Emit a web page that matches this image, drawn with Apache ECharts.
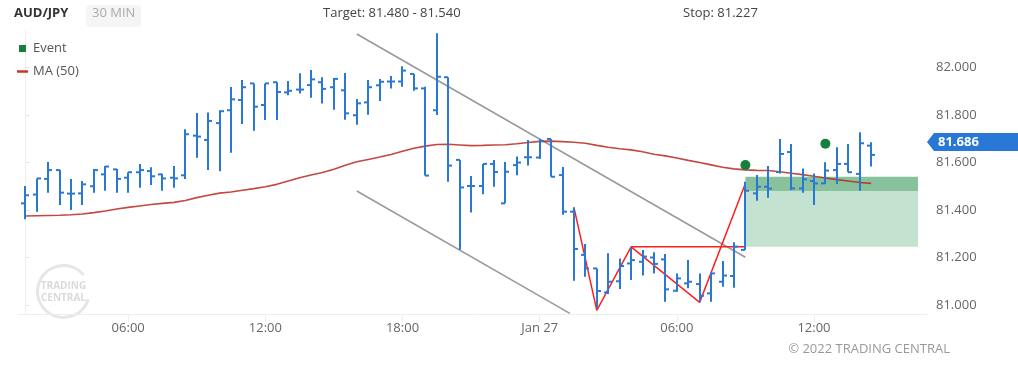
<!DOCTYPE html>
<html><head><meta charset="utf-8">
<script src="https://cdn.jsdelivr.net/npm/echarts@6/dist/echarts.min.js"></script>
<style>html,body{margin:0;padding:0;background:#fff}#c{width:1018px;height:366px}</style>
</head><body><div id="c"></div>
<script>
// ---- data (30-min bars, index 0 = Jan 26 01:30) ----
const opens  = [81.428,81.465,81.531,81.568,81.469,81.470,81.500,81.550,81.571,81.536,
                81.559,81.564,81.550,81.536,81.546,81.713,81.695,81.766,81.820,81.863,
                81.933,81.842,81.938,81.895,81.907,81.926,81.938,81.917,81.904,81.799,
                81.853,81.925,81.941,81.941,81.973,81.912,81.820,81.959,81.611,81.501,
                81.501,81.594,81.428,81.589,81.622,81.621,81.699,81.547,81.393,81.211,
                81.154,81.053,81.100,81.175,81.182,81.200,81.192,81.060,81.091,81.088,
                81.049,81.098,81.122,81.232,81.470,81.498,81.560,81.644,81.491,81.522,
                81.512,81.568,81.594,81.552,81.671];
const highs  = [81.501,81.533,81.602,81.568,81.531,81.522,81.573,81.585,81.573,81.559,
                81.594,81.580,81.553,81.585,81.740,81.808,81.811,81.820,81.918,81.947,
                81.933,81.933,81.938,81.943,81.976,81.989,81.959,81.956,81.977,81.867,
                81.947,81.952,81.964,82.005,81.973,81.919,82.144,81.959,81.611,81.543,
                81.594,81.611,81.602,81.625,81.695,81.699,81.699,81.581,81.411,81.257,
                81.154,81.218,81.196,81.243,81.232,81.222,81.215,81.133,81.189,81.133,
                81.136,81.185,81.264,81.519,81.547,81.585,81.699,81.678,81.575,81.554,
                81.601,81.664,81.678,81.727,81.685];
const lows   = [81.361,81.393,81.473,81.421,81.400,81.421,81.473,81.481,81.473,81.473,
                81.494,81.505,81.481,81.494,81.531,81.620,81.568,81.563,81.641,81.762,
                81.734,81.779,81.779,81.883,81.891,81.873,81.848,81.822,81.780,81.759,
                81.801,81.859,81.912,81.919,81.902,81.545,81.800,81.519,81.233,81.389,
                81.466,81.498,81.428,81.546,81.587,81.616,81.540,81.380,81.102,81.119,
                80.988,81.046,81.067,81.105,81.124,81.133,81.014,81.056,81.070,81.014,
                81.014,81.077,81.073,81.232,81.439,81.452,81.554,81.484,81.473,81.421,
                81.509,81.509,81.559,81.481,81.583];
const closes = [81.462,81.533,81.568,81.473,81.469,81.508,81.568,81.583,81.531,81.559,
                81.568,81.542,81.533,81.533,81.719,81.709,81.775,81.816,81.866,81.917,
                81.835,81.933,81.897,81.902,81.907,81.950,81.910,81.952,81.807,81.849,
                81.917,81.940,81.941,81.987,81.912,81.545,81.961,81.587,81.495,81.501,
                81.594,81.560,81.561,81.600,81.622,81.690,81.540,81.393,81.236,81.154,
                81.059,81.098,81.164,81.189,81.204,81.173,81.066,81.112,81.098,81.039,
                81.133,81.124,81.246,81.481,81.498,81.490,81.636,81.491,81.529,81.512,
                81.566,81.594,81.559,81.681,81.632];
const ma50   = [81.375,81.376,81.377,81.378,81.380,81.383,81.389,81.396,81.404,81.411,
                81.417,81.423,81.428,81.432,81.440,81.452,81.462,81.471,81.476,81.483,
                81.490,81.498,81.508,81.522,81.536,81.547,81.558,81.572,81.588,81.603,
                81.613,81.623,81.634,81.647,81.660,81.669,81.676,81.677,81.674,81.671,
                81.672,81.674,81.675,81.679,81.684,81.689,81.690,81.688,81.685,81.681,
                81.672,81.664,81.658,81.653,81.645,81.635,81.628,81.619,81.609,81.600,
                81.590,81.580,81.573,81.569,81.567,81.566,81.561,81.555,81.549,81.542,
                81.535,81.528,81.522,81.516,81.512];
const xTickIdx    = [9, 21, 33, 45, 57, 69];
const xTickLabels = ['06:00', '12:00', '18:00', 'Jan 27', '06:00', '12:00'];
const yTicks      = [81.0, 81.2, 81.4, 81.6, 81.8, 82.0];
const events       = [[63, 81.589], [70, 81.679]];
const channelUpper = [[29, 82.141], [63, 81.201]];
const channelLower = [[29, 81.480], [47.64, 80.965]];
const pattern      = [[48, 81.411], [50, 80.977], [53, 81.245], [59, 81.011], [63, 81.512]];
const neckline     = [[53, 81.245], [63, 81.245]];
const zones        = [[63, 78.1, 81.245, 81.480], [63, 78.1, 81.480, 81.540]];
const targetRange  = [81.480, 81.540];
const stopLevel    = 81.227;
const lastPrice    = 81.686;

// ---- chart ----
const BLUE = '#2a78d6';
const FONT = "'Open Sans', 'Noto Sans', sans-serif";
const zoneColors = ['#c4e2d0', '#88c29c'];
const chart = echarts.init(document.getElementById('c'), null, {renderer: 'canvas'});

const ohlcData = opens.map((o, i) => [i, o, highs[i], lows[i], closes[i]]);

function renderOHLC(params, api) {
  const i = api.value(0);
  const o = api.coord([i, api.value(1)]);
  const h = api.coord([i, api.value(2)]);
  const l = api.coord([i, api.value(3)]);
  const c = api.coord([i, api.value(4)]);
  const x = Math.round(h[0]);
  const st = {stroke: BLUE, lineWidth: 2};
  return {type: 'group', children: [
    {type: 'line', shape: {x1: x, y1: h[1], x2: x, y2: l[1]}, style: st},
    {type: 'line', shape: {x1: x - 4, y1: o[1], x2: x, y2: o[1]}, style: st},
    {type: 'line', shape: {x1: x, y1: c[1], x2: x + 4, y2: c[1]}, style: st}
  ]};
}
function renderZone(params, api) {
  const p0 = api.coord([api.value(0), api.value(3)]);
  const p1 = api.coord([api.value(1), api.value(2)]);
  return {type: 'rect', shape: {x: p0[0], y: p0[1], width: p1[0] - p0[0], height: p1[1] - p0[1]},
          style: {fill: zoneColors[params.dataIndex]}};
}
function renderTag(params, api) {
  const y = api.coord([api.value(0), api.value(1)])[1];
  const x = params.coordSys.x + params.coordSys.width;
  const hh = 9;
  return {type: 'group', children: [
    {type: 'polygon', shape: {points: [[x, y], [x + 7, y - hh], [x + 95, y - hh], [x + 95, y + hh], [x + 7, y + hh]]},
     style: {fill: BLUE}},
    {type: 'text', x: x + 11, y: y, style: {text: api.value(1).toFixed(3), fill: '#fff',
      font: "bold 13px 'Open Sans', sans-serif", verticalAlign: 'middle'}}
  ]};
}

chart.setOption({
  animation: false,
  grid: {left: 18, right: 91, top: 30, bottom: 52},
  legend: {
    orient: 'vertical', left: 12, top: 37, itemWidth: 11, itemHeight: 7, itemGap: 10,
    selectedMode: false,
    textStyle: {fontSize: 13, color: '#555', fontFamily: FONT},
    data: [{name: 'Event', icon: 'path://M0,0h7v7h-7z'}, {name: 'MA (50)', icon: 'path://M0,0h11v2.5h-11z'}]
  },
  xAxis: {
    type: 'value', min: -0.64, max: 78.89,
    axisLine: {show: true, lineStyle: {color: '#eeeeee'}},
    axisTick: {show: true, length: 8, lineStyle: {color: '#eeeeee'}, customValues: xTickIdx},
    splitLine: {show: false},
    axisLabel: {customValues: xTickIdx, color: '#666', fontSize: 13, fontFamily: FONT, margin: 8,
      formatter: v => xTickLabels[xTickIdx.indexOf(Math.round(v))] || ''}
  },
  yAxis: {
    type: 'value', position: 'right', min: 80.9621, max: 82.1579, scale: true,
    axisLine: {show: true, lineStyle: {color: '#eeeeee'}},
    axisTick: {show: true, length: 4, lineStyle: {color: '#e4e4e4'}, customValues: yTicks},
    splitLine: {show: false},
    axisLabel: {customValues: yTicks, color: '#666', fontSize: 13, fontFamily: FONT, margin: 9,
      formatter: v => v.toFixed(3)}
  },
  graphic: [
    {type: 'text', left: 14, top: 7, style: {text: 'AUD/JPY', font: "bold 13px 'Open Sans', sans-serif", fill: '#333'}},
    {type: 'rect', left: 86, top: 5, shape: {width: 55, height: 22, r: 3}, style: {fill: '#f5f5f5'}},
    {type: 'text', left: 92, top: 7, style: {text: '30 MIN', font: "13px 'Open Sans', sans-serif", fill: '#aaa'}},
    {type: 'text', left: 323, top: 7, style: {text: 'Target: ' + targetRange[0].toFixed(3) + ' - ' + targetRange[1].toFixed(3), font: "13px 'Open Sans', sans-serif", fill: '#444'}},
    {type: 'text', left: 683, top: 7, style: {text: 'Stop: ' + stopLevel.toFixed(3), font: "13px 'Open Sans', sans-serif", fill: '#444'}},
    {type: 'text', right: 68, top: 343, style: {text: '\u00a9 2022 TRADING CENTRAL', font: "13px 'Open Sans', sans-serif", fill: '#999'}},
    {type: 'group', left: 35, top: 263, silent: true, children: [
      {type: 'arc', shape: {cx: 32, cy: 18, r: 26, startAngle: 0.3, endAngle: 5.6}, style: {stroke: '#e6e6e6', lineWidth: 3, fill: null}},
      {type: 'text', x: 32, y: 13, style: {text: 'TRADING', font: "bold 10px 'Open Sans', sans-serif", fill: '#dadada', align: 'center', verticalAlign: 'middle'}},
      {type: 'text', x: 32, y: 25, style: {text: 'CENTRAL', font: "bold 10px 'Open Sans', sans-serif", fill: '#dadada', align: 'center', verticalAlign: 'middle'}}
    ]}
  ],
  series: [
    {name: 'zones', type: 'custom', renderItem: renderZone, data: zones, z: 1, silent: true,
     encode: {x: [0, 1], y: [2, 3]}},
    {name: 'channelUpper', type: 'line', data: channelUpper, showSymbol: false, z: 2,
     lineStyle: {color: '#999', width: 1.5}, silent: true},
    {name: 'channelLower', type: 'line', data: channelLower, showSymbol: false, z: 2,
     lineStyle: {color: '#999', width: 1.5}, silent: true},
    {name: 'MA (50)', type: 'line', data: ma50.map((v, i) => [i, v]), showSymbol: false, z: 3,
     color: '#c0392b', lineStyle: {color: 'rgba(183,40,30,0.85)', width: 1.6}, smooth: false},
    {name: 'pattern', type: 'line', data: pattern, showSymbol: false, z: 4,
     lineStyle: {color: '#ff1f1f', width: 1.5}},
    {name: 'neckline', type: 'line', data: neckline, showSymbol: false, z: 4,
     lineStyle: {color: '#ff1f1f', width: 1.5}},
    {name: 'AUD/JPY', type: 'custom', renderItem: renderOHLC, data: ohlcData, z: 5,
     encode: {x: 0, y: [1, 2, 3, 4]}},
    {name: 'Event', type: 'scatter', data: events, symbol: 'circle', symbolSize: 10, z: 6,
     itemStyle: {color: '#157f3b', opacity: 1}},
    {name: 'last', type: 'custom', renderItem: renderTag, data: [[78.89, lastPrice]], z: 7,
     clip: false, silent: true}
  ]
});
</script>
</body></html>
